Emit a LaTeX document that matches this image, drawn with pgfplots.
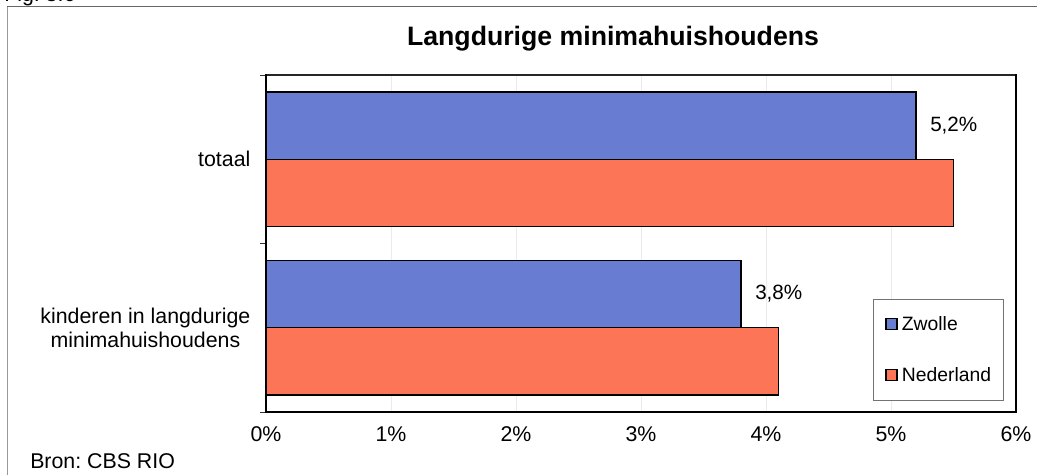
\documentclass[border=0pt]{standalone}
\usepackage{pgfplots}
\pgfplotsset{compat=1.18}
\usepackage{fontspec}
\setmainfont{Liberation Sans}
\definecolor{zwolle}{RGB}{104,125,209}
\definecolor{nl}{RGB}{251,117,86}
\frenchspacing
\begin{document}
\begin{tikzpicture}
\useasboundingbox (0,0) rectangle (777.75pt,355.5pt);
\clip (0,0) rectangle (777.75pt,355.5pt);
\draw[color=black!40, line width=1.2pt] (5.6pt,-2pt) -- (5.6pt,350.5pt);
\draw[color=black!60, line width=0.8pt] (5.0pt,350.5pt) -- (780pt,350.5pt);
\node[anchor=base west, inner sep=0pt, font=\fontsize{16}{19}\selectfont] at (3pt,354.5pt) {Fig. 8.6};
\begin{axis}[
  name=ax,
  at={(199.5pt,46.5pt)}, anchor=south west,
  scale only axis, width=562.5pt, height=252.75pt,
  xbar, bar width=0.4,
  xmin=0, xmax=6, ymin=-0.5, ymax=1.5,
  xtick={0,1,2,3,4,5,6},
  xticklabels={0\%,1\%,2\%,3\%,4\%,5\%,6\%},
  ytick={0,1},
  yticklabels={{kinderen in langdurige\\minimahuishoudens},totaal},
  minor ytick={-0.5,0.5,1.5},
  tick align=outside, xtick pos=bottom, ytick pos=left,
  major tick length=0pt, minor tick length=4.5pt,
  minor tick style={black!80, line width=0.6pt},
  tick label style={font=\fontsize{16}{18}\selectfont},
  xticklabel style={yshift=-7.5pt},
  yticklabel style={align=center, xshift=-8.2pt},
  xmajorgrids, major x grid style={black!8, line width=0.6pt},
  axis line style={black!85, line width=0.9pt},
  legend style={at={(0.8093,0.3353)}, anchor=north west, draw=black!55, line width=0.6pt,
    inner xsep=9pt, inner ysep=13pt, row sep=26pt,
    font=\fontsize{14.5}{17}\selectfont,
    nodes={inner sep=0pt, anchor=base west},
    /tikz/every odd column/.append style={column sep=3pt}},
  legend cell align=left,
  legend image code/.code={\draw[#1, line width=1.1pt] (0pt,0.8pt) rectangle (8.3pt,9.1pt);},
]
\addplot[fill=zwolle, draw=black, line width=1.1pt, bar shift=0.2,
  point meta=x,
  nodes near coords={\pgfmathprintnumber[use comma, fixed, fixed zerofill, precision=1, assume math mode=true]{\pgfplotspointmeta}\%},
  every node near coord/.append style={anchor=west, xshift=6.8pt, font=\fontsize{15.5}{18}\selectfont, black}]
  coordinates {(3.8,0) (5.2,1)};
\addplot[fill=nl, draw=black, line width=1.1pt, bar shift=-0.2]
  coordinates {(4.1,0) (5.5,1)};
\legend{Zwolle,Nederland}
\end{axis}
\draw[line width=1.7pt, black, line cap=rect] (ax.north west) -- (ax.south west) -- (ax.south east) -- (ax.north east);
\node[anchor=base, inner sep=0pt, font=\fontsize{20}{24}\bfseries] at (459.75pt,321pt) {Langdurige minimahuishoudens};
\node[anchor=base west, inner sep=0pt, font=\fontsize{16}{19}\selectfont] at (22.5pt,4.5pt) {Bron: CBS RIO};
\end{tikzpicture}
\end{document}
